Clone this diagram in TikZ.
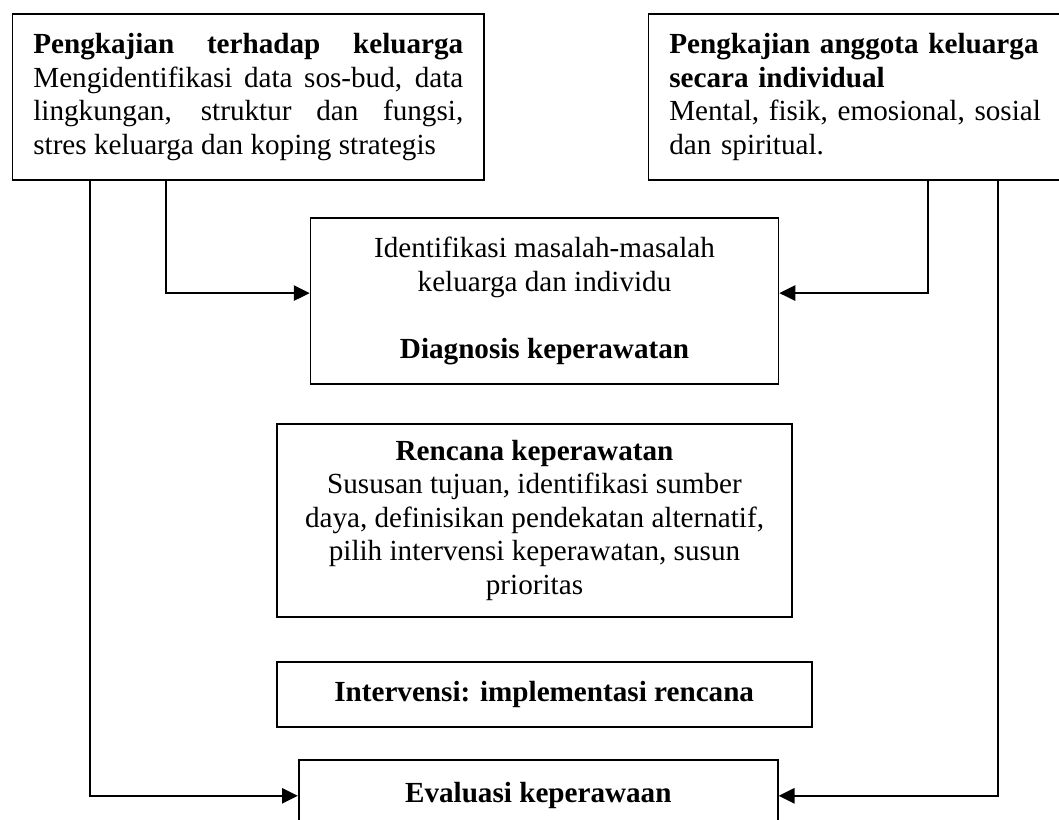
\documentclass[tikz,border=0pt]{standalone}
\usepackage{fontspec}
\setmainfont{Liberation Serif}
\usepackage{tikz}
\usepackage{xcolor}
\usetikzlibrary{arrows.meta}
\definecolor{garis}{RGB}{0,0,0}
\definecolor{latar}{RGB}{255,255,255}

\begin{document}
\begin{tikzpicture}[
  kotak/.style={draw=garis, line width=0.7pt, inner xsep=0.30cm, inner ysep=0pt, anchor=north west, font=\fontsize{12}{13.8}\selectfont},
  panah/.style={draw=garis, line width=0.8pt, -{Triangle[length=0.23cm, width=0.22cm]}}
]

% 1. LATAR
\useasboundingbox (0,0) rectangle (15.32,-11.85);
\fill[latar] (0,0) rectangle (15.32,-11.85);

% 2. PENGKAJIAN (atas)
\node[kotak, text width=6.22cm, minimum height=2.40cm, align=justify] (kaji) at (0.17,-0.19)
  {\textbf{Pengkajian terhadap keluarga}\linebreak Mengidentifikasi data sos-bud, data\linebreak lingkungan, struktur dan fungsi,\linebreak stres keluarga dan koping strategis};
\node[kotak, text width=5.50cm, minimum height=2.40cm, align=left] (individu) at (9.37,-0.19)
  {\textbf{Pengkajian anggota keluarga}\\ \textbf{secara individual}\\ Mental, fisik, emosional, sosial\\ dan spiritual.};

% 3. DIAGNOSIS
\node[kotak, minimum width=6.77cm, minimum height=2.40cm, align=center] (diagnosa) at (4.48,-3.14)
  {Identifikasi masalah-masalah\\ keluarga dan individu\\[13.8pt] \textbf{Diagnosis keperawatan}};

% 4. RENCANA
\node[kotak, minimum width=7.46cm, minimum height=2.79cm, align=center] (rencana) at (3.99,-6.12)
  {\textbf{Rencana keperawatan}\\ Sususan tujuan, identifikasi sumber\\ daya, definisikan pendekatan alternatif,\\ pilih intervensi keperawatan, susun\\ prioritas};

% 5. INTERVENSI & EVALUASI
\node[kotak, minimum width=7.74cm, minimum height=0.94cm] (intervensi) at (3.99,-9.56) {\textbf{Intervensi: implementasi rencana}};
\node[kotak, minimum width=6.93cm, minimum height=1.04cm] (evaluasi) at (4.31,-10.98) {\textbf{Evaluasi keperawaan}};

% 6. JALUR PANAH
\coordinate (jalurA) at (1.30,0);
\coordinate (jalurB) at (2.40,0);
\coordinate (jalurC) at (13.42,0);
\coordinate (jalurD) at (14.44,0);
\coordinate (tinggiDx) at (0,-4.24);
\draw[panah] (kaji.south -| jalurB) |- (tinggiDx -| diagnosa.west);
\draw[panah] (individu.south -| jalurC) |- (tinggiDx -| diagnosa.east);
\draw[panah] (kaji.south -| jalurA) |- (evaluasi.west);
\draw[panah] (individu.south -| jalurD) |- (evaluasi.east);

\end{tikzpicture}
\end{document}
